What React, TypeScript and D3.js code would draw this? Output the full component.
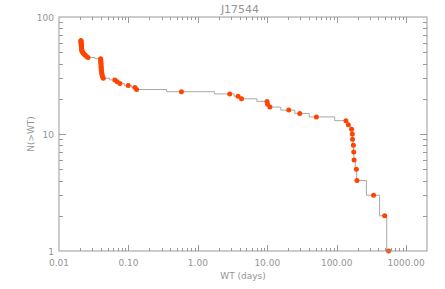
import React, { useEffect, useRef } from 'react';
import * as d3 from 'd3';

// waiting time (days) and cumulative count N(>WT)
const wtDays = [
  0.0207, 0.0207, 0.0208, 0.0208, 0.0209, 0.0209, 0.021, 0.021, 0.0211, 0.0211,
  0.0212, 0.0213, 0.0215, 0.0219, 0.0224, 0.0231, 0.024, 0.025, 0.0262,
  0.0398, 0.0399, 0.04, 0.0401, 0.0402, 0.0403, 0.0404, 0.0405, 0.0406, 0.0408,
  0.041, 0.0413, 0.0417, 0.0424, 0.0434,
  0.0638, 0.0689, 0.0754, 0.0993, 0.124, 0.131, 0.58,
  2.88, 3.8, 4.26, 9.93, 10.1, 10.9, 20.4, 29.4, 51,
  136, 147, 164, 168, 169, 174, 176, 178, 192, 196, 340, 491, 560,
];
const nAbove = wtDays.map((_, i) => wtDays.length - i);

const xTickLabels = ['0.01', '0.10', '1.00', '10.00', '100.00', '1000.00'];
const yTickLabels = ['1', '10', '100'];
const title = 'J17544';

const W = 445;
const H = 289;
const axisCol = '#9a9a9a';
const textCol = '#959595';
const dotCol = '#ff4400';

export default function App() {
  const svgRef = useRef<SVGSVGElement>(null);

  useEffect(() => {
    const svg = d3.select(svgRef.current);
    svg.selectAll('*').remove();

    const x = d3.scaleLog().domain([0.01, 2000]).range([59, 427]);
    const y = d3.scaleLog().domain([1, 100]).range([251, 17]);
    const [x0, x1] = x.range();
    const [y1, y0] = y.range();
    const font = 'DejaVu Sans, sans-serif';

    // histogram style steps, midpoints in data space (like psym=10)
    const pts: [number, number][] = [];
    for (let i = 0; i < wtDays.length; i++) {
      if (i === 0) pts.push([x(wtDays[0]), y(nAbove[0])]);
      if (i < wtDays.length - 1) {
        const mid = (wtDays[i] + wtDays[i + 1]) / 2;
        pts.push([x(mid), y(nAbove[i])]);
        pts.push([x(mid), y(nAbove[i + 1])]);
      } else {
        pts.push([x(wtDays[i]), y(nAbove[i])]);
      }
    }
    svg.append('path')
      .attr('d', d3.line()(pts))
      .attr('fill', 'none')
      .attr('stroke', '#a8a8a8')
      .attr('stroke-width', 1);

    svg.append('g').selectAll('circle')
      .data(wtDays)
      .enter()
      .append('circle')
      .attr('cx', (d) => x(d))
      .attr('cy', (d, i) => y(nAbove[i]))
      .attr('r', 2.5)
      .attr('fill', dotCol);

    // frame
    svg.append('rect')
      .attr('x', x0).attr('y', y0)
      .attr('width', x1 - x0).attr('height', y1 - y0)
      .attr('fill', 'none')
      .attr('stroke', axisCol)
      .attr('stroke-width', 1);

    const isMajor = (v: number) => Math.abs(Math.log10(v) - Math.round(Math.log10(v))) < 1e-6;
    const ax = svg.append('g').attr('stroke', axisCol).attr('stroke-width', 1);

    x.ticks().filter((v) => x(v) > x0 + 0.5 && x(v) < x1 - 0.5).forEach((v) => {
      const len = isMajor(v) ? 6 : 3;
      const px = Math.round(x(v)) + 0.5;
      ax.append('line').attr('x1', px).attr('x2', px).attr('y1', y1).attr('y2', y1 - len);
      ax.append('line').attr('x1', px).attr('x2', px).attr('y1', y0).attr('y2', y0 + len);
    });
    y.ticks().filter((v) => y(v) < y1 - 0.5 && y(v) > y0 + 0.5).forEach((v) => {
      const len = isMajor(v) ? 7 : 4;
      const py = Math.round(y(v)) + 0.5;
      ax.append('line').attr('x1', x0).attr('x2', x0 + len).attr('y1', py).attr('y2', py);
      ax.append('line').attr('x1', x1).attr('x2', x1 - len).attr('y1', py).attr('y2', py);
    });

    const xMajors = [0.01, 0.1, 1, 10, 100, 1000];
    svg.append('g').selectAll('text')
      .data(xTickLabels)
      .enter()
      .append('text')
      .attr('x', (d, i) => x(xMajors[i]))
      .attr('y', 266)
      .attr('text-anchor', 'middle')
      .attr('font-family', font)
      .attr('font-size', 9)
      .attr('fill', textCol)
      .text((d) => d);

    const yMajors = [1, 10, 100];
    svg.append('g').selectAll('text')
      .data(yTickLabels)
      .enter()
      .append('text')
      .attr('x', 54)
      .attr('y', (d, i) => y(yMajors[i]) + 3.5)
      .attr('text-anchor', 'end')
      .attr('font-family', font)
      .attr('font-size', 9)
      .attr('fill', textCol)
      .text((d) => d);

    svg.append('text')
      .attr('x', (x0 + x1) / 2)
      .attr('y', 279)
      .attr('text-anchor', 'middle')
      .attr('font-family', font)
      .attr('font-size', 9)
      .attr('fill', textCol)
      .text('WT (days)');

    svg.append('text')
      .attr('transform', `translate(34, ${(y0 + y1) / 2}) rotate(-90)`)
      .attr('text-anchor', 'middle')
      .attr('font-family', font)
      .attr('font-size', 9)
      .attr('fill', textCol)
      .text('N(>WT)');

    svg.append('text')
      .attr('x', 240)
      .attr('y', 13)
      .attr('text-anchor', 'middle')
      .attr('font-family', font)
      .attr('font-size', 11)
      .attr('fill', textCol)
      .text(title);
  }, []);

  return (
    <svg
      ref={svgRef}
      width={W}
      height={H}
      style={{ position: 'absolute', left: 0, top: 0, background: '#fff' }}
    />
  );
}
